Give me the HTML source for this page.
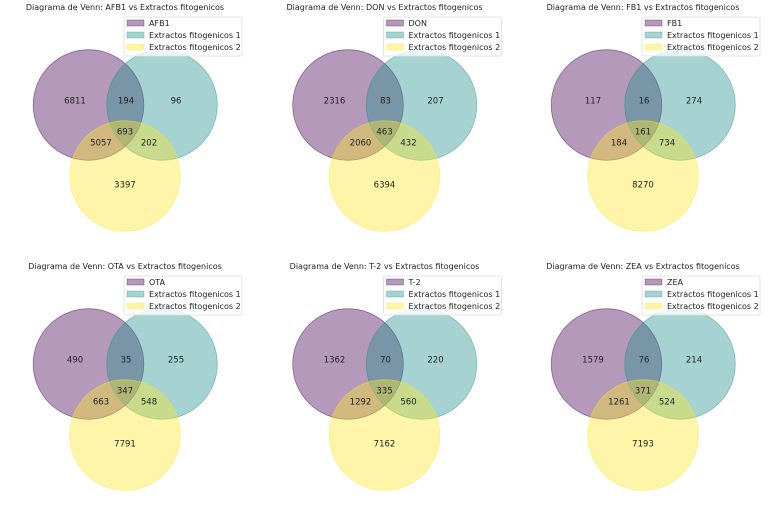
<!DOCTYPE html>
<html><head><meta charset="utf-8"><style>
html,body{margin:0;padding:0;background:#fff}
svg{display:block;font-family:"DejaVu Sans","Liberation Sans",sans-serif}
.t{font-size:8px;fill:#222;text-anchor:middle}
.n{font-size:8.5px;fill:#222;text-anchor:middle;dominant-baseline:middle}
.l{font-size:8px;fill:#222;dominant-baseline:middle}
</style></head><body>
<svg width="768" height="517" viewBox="0 0 768 517">
<defs>
<g id="v">
<circle cx="88.5" cy="105" r="55.3" fill="#440154" fill-opacity="0.4" stroke="#440154" stroke-opacity="0.5" stroke-width="0.8"/>
<circle cx="162" cy="105" r="55.3" fill="#21918c" fill-opacity="0.4" stroke="#21918c" stroke-opacity="0.5" stroke-width="0.8"/>
<circle cx="125" cy="176" r="55.3" fill="#fde725" fill-opacity="0.4" stroke="#fde725" stroke-opacity="0.5" stroke-width="0.8"/>
<rect x="124" y="17" width="118" height="39" fill="#fff" fill-opacity="0.8" stroke="#ddd" stroke-width="0.8" rx="2"/>
<rect x="127" y="20" width="17" height="6" fill="#440154" fill-opacity="0.4" stroke="#440154" stroke-opacity="0.5" stroke-width="0.6"/>
<rect x="127" y="32" width="17" height="6" fill="#21918c" fill-opacity="0.4" stroke="#21918c" stroke-opacity="0.5" stroke-width="0.6"/>
<rect x="127" y="44" width="17" height="6" fill="#fde725" fill-opacity="0.4" stroke="#fde725" stroke-opacity="0.5" stroke-width="0.6"/>
<text class="l" x="149" y="35.5">Extractos fitogenicos 1</text>
<text class="l" x="149" y="47.5">Extractos fitogenicos 2</text>
</g>
</defs>

<g>
<use href="#v"/>
<text class="t" x="125" y="10">Diagrama de Venn: AFB1 vs Extractos fitogenicos</text>
<text class="l" x="149" y="23.5">AFB1</text>
<text class="n" x="75" y="101">6811</text><text class="n" x="126" y="101">194</text><text class="n" x="176" y="101">96</text>
<text class="n" x="125" y="132">693</text><text class="n" x="101" y="143">5057</text><text class="n" x="149" y="143">202</text>
<text class="n" x="125" y="185">3397</text>
</g>
<g transform="translate(259.5,0)">
<use href="#v"/>
<text class="t" x="125" y="10">Diagrama de Venn: DON vs Extractos fitogenicos</text>
<text class="l" x="149" y="23.5">DON</text>
<text class="n" x="75" y="101">2316</text><text class="n" x="126" y="101">83</text><text class="n" x="176" y="101">207</text>
<text class="n" x="125" y="132">463</text><text class="n" x="101" y="143">2060</text><text class="n" x="149" y="143">432</text>
<text class="n" x="125" y="185">6394</text>
</g>
<g transform="translate(518,0)">
<use href="#v"/>
<text class="t" x="125" y="10">Diagrama de Venn: FB1 vs Extractos fitogenicos</text>
<text class="l" x="149" y="23.5">FB1</text>
<text class="n" x="75" y="101">117</text><text class="n" x="126" y="101">16</text><text class="n" x="176" y="101">274</text>
<text class="n" x="125" y="132">161</text><text class="n" x="101" y="143">184</text><text class="n" x="149" y="143">734</text>
<text class="n" x="125" y="185">8270</text>
</g>
<g transform="translate(0,259)">
<use href="#v"/>
<text class="t" x="125" y="10">Diagrama de Venn: OTA vs Extractos fitogenicos</text>
<text class="l" x="149" y="23.5">OTA</text>
<text class="n" x="75" y="101">490</text><text class="n" x="126" y="101">35</text><text class="n" x="176" y="101">255</text>
<text class="n" x="125" y="132">347</text><text class="n" x="101" y="143">663</text><text class="n" x="149" y="143">548</text>
<text class="n" x="125" y="185">7791</text>
</g>
<g transform="translate(259.5,259)">
<use href="#v"/>
<text class="t" x="125" y="10">Diagrama de Venn: T-2 vs Extractos fitogenicos</text>
<text class="l" x="149" y="23.5">T-2</text>
<text class="n" x="75" y="101">1362</text><text class="n" x="126" y="101">70</text><text class="n" x="176" y="101">220</text>
<text class="n" x="125" y="132">335</text><text class="n" x="101" y="143">1292</text><text class="n" x="149" y="143">560</text>
<text class="n" x="125" y="185">7162</text>
</g>
<g transform="translate(518,259)">
<use href="#v"/>
<text class="t" x="125" y="10">Diagrama de Venn: ZEA vs Extractos fitogenicos</text>
<text class="l" x="149" y="23.5">ZEA</text>
<text class="n" x="75" y="101">1579</text><text class="n" x="126" y="101">76</text><text class="n" x="176" y="101">214</text>
<text class="n" x="125" y="132">371</text><text class="n" x="101" y="143">1261</text><text class="n" x="149" y="143">524</text>
<text class="n" x="125" y="185">7193</text>
</g>
</svg>
</body></html>
